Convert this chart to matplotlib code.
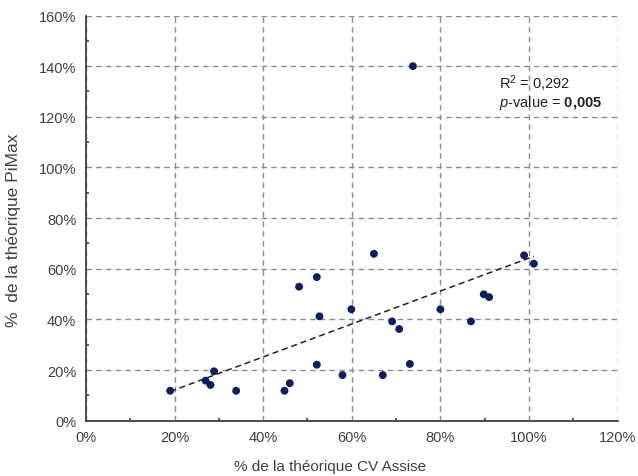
import matplotlib
matplotlib.use("Agg")
import matplotlib.pyplot as plt
import numpy as np
from matplotlib.ticker import MultipleLocator, FuncFormatter

# values (% of theoretical)
cv_assise = [19.0, 27.0, 28.1, 28.9, 33.9, 44.8, 46.0, 48.1, 52.1, 52.7, 52.1,
             57.9, 59.9, 65.0, 67.0, 69.1, 70.7, 73.1, 80.0, 86.9, 89.8, 91.0,
             98.9, 101.1, 73.8]
pimax = [11.8, 15.8, 14.1, 19.5, 11.8, 11.8, 14.8, 52.9, 56.7, 41.2, 22.1,
         18.0, 44.0, 65.9, 18.0, 39.2, 36.2, 22.4, 44.0, 39.2, 49.9, 48.8,
         65.3, 62.0, 140.0]
r2_text = "0,292"
pval_text = "0,005"

plt.rcParams["font.family"] = ["Liberation Sans", "DejaVu Sans"]
plt.rcParams["mathtext.fontset"] = "custom"
plt.rcParams["mathtext.rm"] = "Liberation Sans"
plt.rcParams["mathtext.it"] = "Liberation Sans:italic"
plt.rcParams["mathtext.bf"] = "Liberation Sans:bold"

fig = plt.figure(figsize=(6.38, 4.77), dpi=100)
ax = fig.add_axes([0.1348, 0.116, 0.8332, 0.8494])

x = np.array(cv_assise)
y = np.array(pimax)

# linear trend line over all points
slope, intercept = np.polyfit(x, y, 1)
xl = np.array([x.min(), x.max()])
ax.plot(xl, slope * xl + intercept, color="#222222", linestyle=(0, (4, 2.5)),
        linewidth=1.1, zorder=3)

ax.scatter(x, y, s=32, color="#0a1f5c", edgecolors="none", zorder=4)

ax.set_xlim(0, 120)
ax.set_ylim(0, 160)
ax.xaxis.set_major_locator(MultipleLocator(20))
ax.yaxis.set_major_locator(MultipleLocator(20))
ax.xaxis.set_minor_locator(MultipleLocator(10))
ax.yaxis.set_minor_locator(MultipleLocator(10))
pct = FuncFormatter(lambda v, p: f"{v:.0f}%")
ax.xaxis.set_major_formatter(pct)
ax.yaxis.set_major_formatter(pct)

ax.grid(True, which="major", color="#8c8c8c", linestyle=(0, (4, 3)), linewidth=1.0)
ax.set_axisbelow(True)
for side in ["top", "right"]:
    ax.spines[side].set_visible(False)
for side in ["left", "bottom"]:
    ax.spines[side].set_color("#404040")
    ax.spines[side].set_linewidth(1.3)

ax.tick_params(which="major", length=0, labelsize=10.5, labelcolor="#404040", pad=7)
ax.tick_params(which="minor", direction="in", length=2.5, width=1.2, color="#404040")

ax.set_xlabel("% de la théorique CV Assise", fontsize=11, color="#404040")
ax.xaxis.set_label_coords(0.459, -0.095)
ax.set_ylabel("%  de la théorique PiMax", fontsize=12.5, color="#404040")
ax.yaxis.set_label_coords(-0.122, 0.473)

ax.text(93.2, 133.4, "R$^2$ = " + r2_text, fontsize=10.5, color="#222222",
        ha="left", va="center")
ax.text(93.2, 125.9, r"$\mathit{p}$-value = $\mathbf{" + pval_text.replace(",", "{,}") + "}$",
        fontsize=10.5, color="#222222", ha="left", va="center")

fig.savefig("out.png", dpi=100)
